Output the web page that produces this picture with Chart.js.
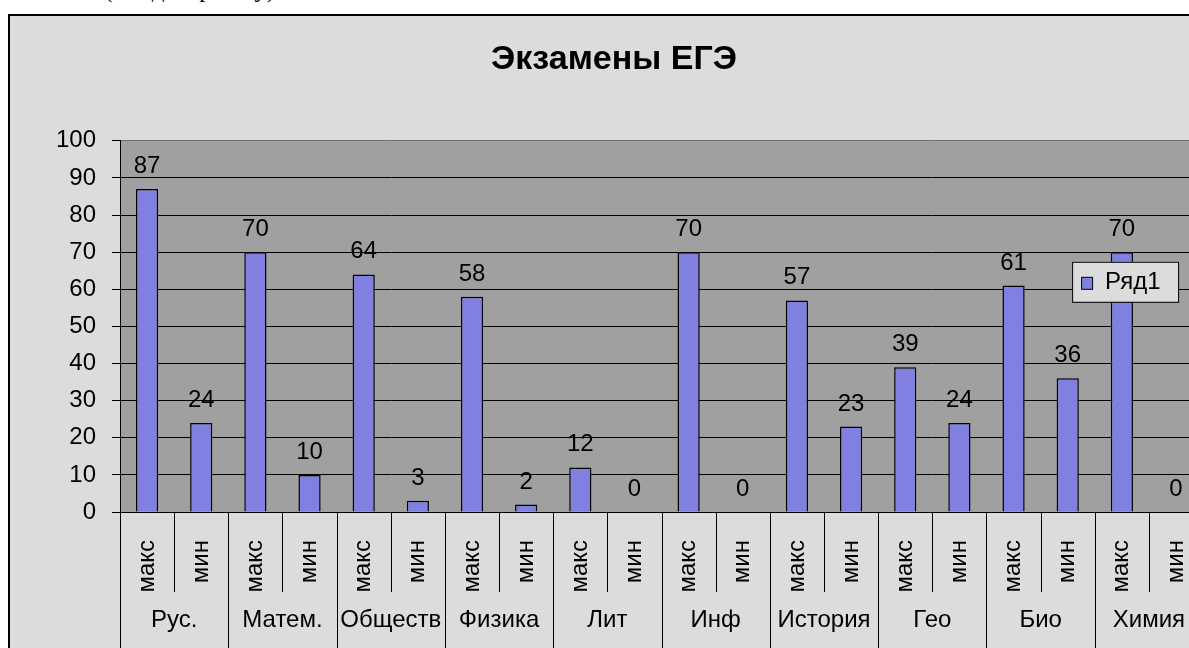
<!DOCTYPE html>
<html>
<head>
<meta charset="utf-8">
<title>Экзамены ЕГЭ</title>
<script src="https://cdn.jsdelivr.net/npm/chart.js@4"></script>
<style>
  html, body { margin: 0; padding: 0; background: #fff; width: 1189px; height: 648px; overflow: hidden; }
  .doc { position: absolute; top: -23px; font: 25px "Liberation Serif", serif; line-height: 24px; white-space: nowrap; color: #000; }
  .frame { position: absolute; left: 8px; top: 14px; width: 1215px; height: 660px; border: 2px solid #000; background: #dcdcdc; }
  .frame canvas { display: block; }
</style>
</head>
<body>
<div class="doc" style="right:1089px">результаты ЕГЭ</div>
<div class="doc" style="left:104px">(см. диаграмму).</div>
<div class="frame"><canvas id="egeChart" width="1215" height="660"></canvas></div>
<script>
(function() {
  'use strict'

  // chart data
  const slotLabels = ["макс", "мин", "макс", "мин", "макс", "мин", "макс", "мин", "макс", "мин",
                      "макс", "мин", "макс", "мин", "макс", "мин", "макс", "мин", "макс", "мин"]
  const subjects = ["Рус.", "Матем.", "Обществ", "Физика", "Лит", "Инф", "История", "Гео", "Био", "Химия"]
  const scores = [87, 24, 70, 10, 64, 3, 58, 2, 12, 0, 70, 0, 57, 23, 39, 24, 61, 36, 70, 0]
  const seriesName = "Ряд1"
  const yTicks = [0, 10, 20, 30, 40, 50, 60, 70, 80, 90, 100]

  const barColor = "#8080e0"
  const font = "Arial, 'Liberation Sans', sans-serif"

  // gray plot area behind the bars
  const plotBackground = {
    id: 'plotBackground',
    beforeDraw(chart) {
      const { ctx, chartArea: a } = chart
      ctx.save()
      ctx.fillStyle = '#a0a0a0'
      ctx.fillRect(a.left, a.top, a.right - a.left, a.bottom - a.top)
      ctx.restore()
    }
  }

  // value labels above each bar
  const valueLabels = {
    id: 'valueLabels',
    afterDatasetsDraw(chart) {
      const ctx = chart.ctx
      const meta = chart.getDatasetMeta(0)
      ctx.save()
      ctx.fillStyle = '#000'
      ctx.font = "24px " + font
      ctx.textAlign = 'center'
      ctx.textBaseline = 'alphabetic'
      meta.data.forEach((bar, i) => { ctx.fillText(String(scores[i]), bar.x, bar.y - 16) })
      ctx.restore()
    }
  }

  // separators + subject names under the rotated labels
  const groupAxis = {
    id: 'groupAxis',
    afterDraw(chart) {
      const { ctx, scales: { x } } = chart
      const top = x.top, bottom = chart.height
      ctx.save()
      ctx.strokeStyle = '#000'
      ctx.lineWidth = 1
      for (let i = 0; i <= slotLabels.length; i++) {
        const px = Math.round(x.getPixelForValue(i - 0.5)) + 0.5
        ctx.beginPath()
        ctx.moveTo(px, top)
        ctx.lineTo(px, i % 2 === 0 ? bottom : top + 80)
        ctx.stroke()
      }
      ctx.fillStyle = '#000'
      ctx.font = "24px " + font
      ctx.textAlign = 'center'
      ctx.textBaseline = 'middle'
      subjects.forEach((s, g) => { ctx.fillText(s, x.getPixelForValue(g * 2 + 0.5), top + 108) })
      ctx.restore()
    }
  }

  // legend box overlapping the plot, like the original
  const boxLegend = {
    id: 'boxLegend',
    afterDraw(chart) {
      const { ctx, chartArea: a } = chart
      const lx = a.right - 131, ly = a.top + 121, w = 106, h = 40
      ctx.save()
      ctx.fillStyle = '#dcdcdc'
      ctx.fillRect(lx, ly, w, h)
      ctx.strokeStyle = '#000'
      ctx.lineWidth = 1
      ctx.strokeRect(lx + 0.5, ly + 0.5, w, h)
      ctx.fillStyle = barColor
      ctx.fillRect(lx + 9.5, ly + 15.5, 11, 12)
      ctx.strokeRect(lx + 9.5, ly + 15.5, 11, 12)
      ctx.fillStyle = '#000'
      ctx.font = "24px " + font
      ctx.textAlign = 'left'
      ctx.textBaseline = 'middle'
      ctx.fillText(seriesName, lx + 33, ly + 21)
      ctx.restore()
    }
  }

  const ctx = document.getElementById('egeChart').getContext('2d')
  // eslint-disable-next-line no-undef
  new Chart(ctx, {
    type: 'bar',
    data: {
      labels: slotLabels,
      datasets: [{
        label: seriesName,
        data: scores,
        backgroundColor: barColor,
        borderColor: '#000',
        borderWidth: 1.5,
        categoryPercentage: 1,
        barPercentage: 0.41
      }]
    },
    options: {
      responsive: false,
      animation: false,
      layout: { padding: { left: 0, right: 7, top: 0, bottom: 0 } },
      plugins: {
        legend: { display: false },
        tooltip: { enabled: false },
        title: {
          display: true,
          text: 'Экзамены ЕГЭ',
          color: '#000',
          font: { family: font, size: 34, weight: 'bold', lineHeight: 1.2 },
          padding: { top: 23, bottom: 61 }
        }
      },
      scales: {
        x: {
          offset: true,
          grid: { display: false },
          border: { display: true, color: '#000', width: 1 },
          ticks: { color: '#000', font: { family: font, size: 24 }, minRotation: 90, maxRotation: 90, padding: 20, autoSkip: false },
          afterFit(scale) { scale.height = 164 }
        },
        y: {
          min: 0,
          max: 100,
          afterBuildTicks(scale) { scale.ticks = yTicks.map((v) => ({ value: v })) },
          grid: { color: (c) => c.tick && c.tick.value === 100 ? '#6e6e6e' : '#000', tickColor: '#000', tickLength: 8, lineWidth: 1 },
          border: { display: true, color: '#000', width: 1 },
          ticks: { color: '#000', font: { family: font, size: 24 }, padding: 16 },
          afterFit(scale) { scale.width = 110 }
        }
      }
    },
    plugins: [plotBackground, valueLabels, groupAxis, boxLegend]
  })
})();
</script>
</body>
</html>
